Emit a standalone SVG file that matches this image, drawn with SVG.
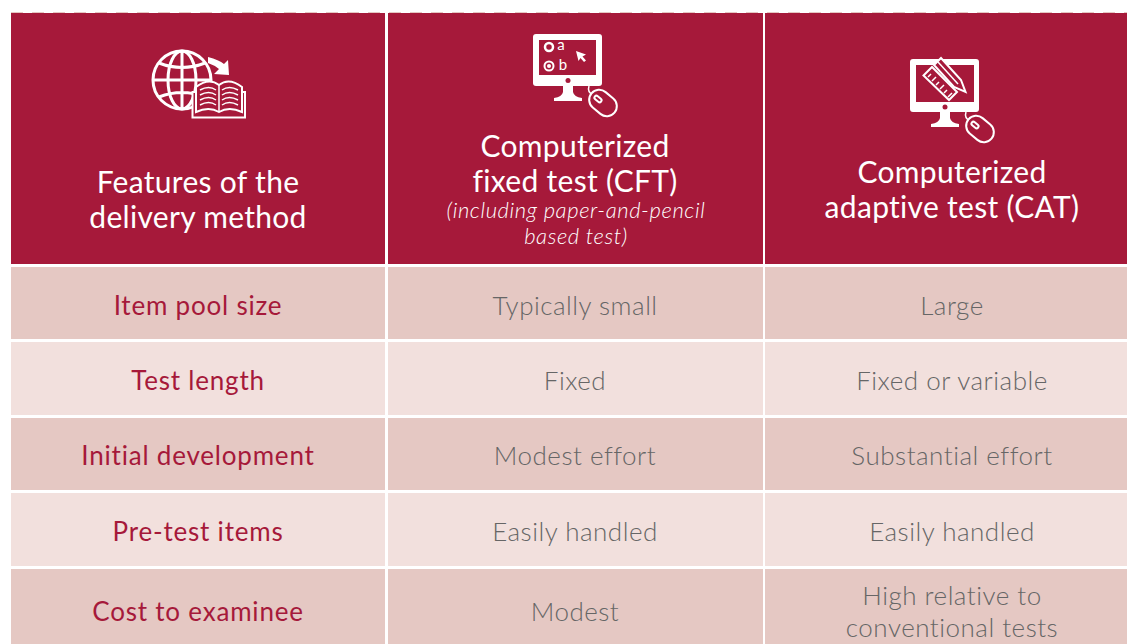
<svg xmlns="http://www.w3.org/2000/svg" width="1127" height="644" viewBox="0 0 1127 644">
<style>
.h{fill:#a6193a}.d{fill:#e5c8c3}.l{fill:#f2e0dd}
text{font-family:"Lato","Open Sans",sans-serif;text-anchor:middle}
.t{font-size:30px;fill:#fff;letter-spacing:.3px}.s{font-size:22px;fill:#fff;font-style:italic;font-weight:300;letter-spacing:.6px}
.r{font-size:26px;fill:#a6193a;letter-spacing:.8px}.c{font-size:26px;fill:#666;letter-spacing:.5px;font-weight:300}
.w{fill:none;stroke:#fff;stroke-width:3}.n{fill:none;stroke:#fff;stroke-width:1.500}
.f{fill:#fff}.m{fill:#a6193a;stroke:#fff;stroke-width:2}
</style>
<rect width="1127" height="644" fill="#fff"/>
<g id="header">
<path d="M11 12.500H1127" stroke="#e5c8c3" stroke-width="1" stroke-dasharray="12 9"/>
<rect class="h" x="11" y="13" width="374" height="251"/>
<rect class="h" x="388" y="13" width="375" height="251"/>
<rect class="h" x="765" y="13" width="362" height="251"/>
<text class="t" x="198" y="193">Features of the</text><text class="t" x="198" y="228">delivery method</text>
<text class="t" x="575" y="157">Computerized</text><text class="t" x="575" y="192">fixed test (CFT)</text>
<text class="s" x="576" y="217.500">(including paper-and-pencil</text><text class="s" x="576" y="244">based test)</text>
<text class="t" x="952" y="183">Computerized</text><text class="t" x="952" y="218">adaptive test (CAT)</text>
</g>
<g id="icon-globe">
<circle class="w" cx="182" cy="80" r="29" stroke-width="3.500"/><ellipse class="w" cx="182" cy="80" rx="14" ry="29"/>
<path class="w" d="M153 80H211M159 63Q182 72 205 63M159 97Q182 88 205 97M182 51V109"/>
<path class="m" stroke-width="3" d="M192.500 92H245V117.500H192.500Z"/>
<path class="m" stroke-width="2.500" d="M196 112V87Q209 77 219 85Q229 77 242 87V112Q229 106 219 112Q209 106 196 112Z"/>
<path class="n" d="M219 85V112M200 90Q209 85 216 90M200 95Q209 90 216 95M200 100Q209 95 216 100M200 105Q209 100 216 105M222 90Q229 85 238 90M222 95Q229 90 238 95M222 100Q229 95 238 100M222 105Q229 100 238 105"/>
<path class="f" d="M208 57Q219 60 224 64L228 60L229 75L214 74L219 69Q214 65 208 63Z"/>
</g>
<g id="icon-cft">
<rect class="f" x="533" y="34" width="69" height="52" rx="3"/><rect class="h" x="539" y="40" width="57" height="35"/>
<circle class="h" cx="568" cy="80.500" r="2.500"/>
<path class="f" d="M563 86H573V92Q574 97 582 98V101H554V98Q562 97 563 92Z"/>
<circle cx="549" cy="47" r="4" fill="none" stroke="#fff" stroke-width="2.500"/><circle cx="549" cy="66" r="4.500" fill="none" stroke="#fff" stroke-width="2"/><circle class="f" cx="549" cy="66" r="2"/>
<text x="561" y="50" font-size="15" fill="#fff">a</text><text x="563" y="70" font-size="15" fill="#fff">b</text>
<path class="f" d="M576 51L586 54.500L582.500 56.500L586 60.500L584 62L580.500 58L578.500 61Z"/>
<path class="n" d="M589 86Q587 92 593 95"/>
<rect class="m" x="588" y="93" width="30" height="20" rx="10" transform="rotate(40 603 103)"/>
<rect class="m" x="594" y="97" width="8" height="4" rx="2" transform="rotate(40 598 99)" stroke-width="1.500"/>
</g>
<g id="icon-cat">
<rect class="f" x="910" y="59" width="69" height="53" rx="3"/><rect class="h" x="916" y="65" width="58" height="37"/>
<circle class="h" cx="945" cy="107" r="2.500"/>
<path class="f" d="M940 112H950V118Q951 123 959 124V127H931V124Q939 123 940 118Z"/>
<path class="m" d="M923.500 75.500L932 67L957 92L949 100Z"/>
<path class="n" d="M928 77L931 74M932 81L936 77M936 85L939 82M940 89L944 85M944 93L947 90M948 97L952 93"/>
<path class="m" d="M934 65L941 58L961 80L965.500 92L954 87Z"/>
<path class="n" d="M938 62L958 84"/>
<path class="n" d="M966 112Q964 118 970 121"/>
<rect class="m" x="965" y="119" width="30" height="20" rx="10" transform="rotate(40 980 129)"/>
<rect class="m" x="971" y="123" width="8" height="4" rx="2" transform="rotate(40 975 125)" stroke-width="1.500"/>
</g>
<g id="row-1"><rect class="d" x="11" y="267" width="374" height="72"/><rect class="d" x="388" y="267" width="375" height="72"/><rect class="d" x="765" y="267" width="362" height="72"/>
<text class="r" x="198" y="314.500">Item pool size</text><text class="c" x="575" y="314.500">Typically small</text><text class="c" x="952" y="314.500">Large</text></g>
<g id="row-2"><rect class="l" x="11" y="342" width="374" height="73"/><rect class="l" x="388" y="342" width="375" height="73"/><rect class="l" x="765" y="342" width="362" height="73"/>
<text class="r" x="198" y="390">Test length</text><text class="c" x="575" y="390">Fixed</text><text class="c" x="952" y="390">Fixed or variable</text></g>
<g id="row-3"><rect class="d" x="11" y="418" width="374" height="72"/><rect class="d" x="388" y="418" width="375" height="72"/><rect class="d" x="765" y="418" width="362" height="72"/>
<text class="r" x="198" y="465">Initial development</text><text class="c" x="575" y="465">Modest effort</text><text class="c" x="952" y="465">Substantial effort</text></g>
<g id="row-4"><rect class="l" x="11" y="493" width="374" height="73"/><rect class="l" x="388" y="493" width="375" height="73"/><rect class="l" x="765" y="493" width="362" height="73"/>
<text class="r" x="198" y="541">Pre-test items</text><text class="c" x="575" y="541">Easily handled</text><text class="c" x="952" y="541">Easily handled</text></g>
<g id="row-5"><rect class="d" x="11" y="569" width="374" height="75"/><rect class="d" x="388" y="569" width="375" height="75"/><rect class="d" x="765" y="569" width="362" height="75"/>
<text class="r" x="198" y="621">Cost to examinee</text><text class="c" x="575" y="621">Modest</text><text class="c" x="952" y="605">High relative to</text><text class="c" x="952" y="637">conventional tests</text></g>
</svg>
